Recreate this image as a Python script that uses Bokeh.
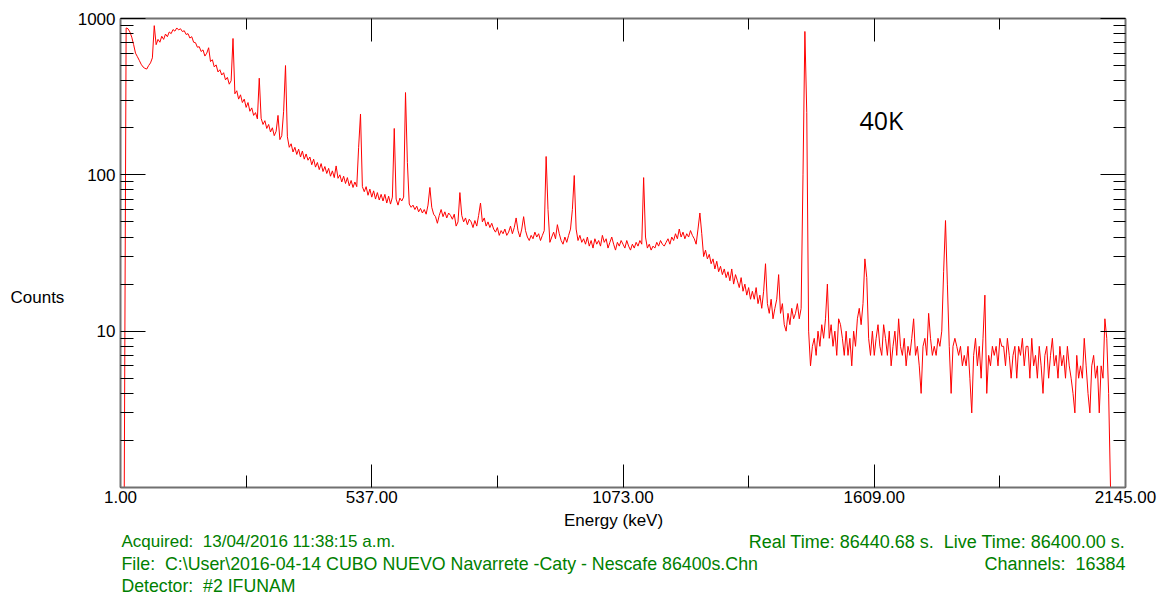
from bokeh.plotting import figure
from bokeh.layouts import column, row
from bokeh.models import LinearAxis, LogAxis, FixedTicker, PrintfTickFormatter, Label, Range1d
from bokeh.core.properties import value
from bokeh.embed import file_html
from bokeh.resources import INLINE

# ---------------- data ----------------
energy_start_kev = 1.0
energy_step_kev = 4.0

counts = [
    1, 1, 1, 870, 860, 820, 760, 680, 600, 570,
    540, 510, 490, 480, 475, 500, 520, 560, 900, 680,
    735, 705, 770, 735, 795, 765, 820, 800, 850, 830,
    870, 845, 860, 825, 835, 790, 800, 750, 765, 705,
    700, 655, 660, 615, 630, 575, 600, 650, 530, 545,
    490, 505, 455, 470, 435, 450, 405, 420, 380, 400,
    745, 330, 345, 305, 325, 290, 305, 270, 290, 255,
    268, 240, 250, 228, 415, 230, 210, 222, 198, 210,
    188, 200, 178, 190, 240, 168, 178, 255, 500, 175,
    150, 158, 140, 150, 135, 146, 130, 142, 126, 136,
    124, 130, 116, 126, 112, 120, 108, 118, 105, 113,
    102, 110, 98, 106, 96, 114, 95, 100, 90, 98,
    88, 96, 85, 92, 83, 90, 84, 150, 245, 84,
    78, 84, 74, 81, 72, 79, 70, 77, 69, 75,
    68, 75, 66, 73, 65, 72, 198, 70, 64, 71,
    68, 72, 336, 120, 65, 62, 64, 60, 63, 58,
    61, 57, 60, 56, 64, 83, 62, 56, 54, 49,
    55, 60, 54, 58, 53, 57, 55, 52, 56, 47,
    50, 77, 55, 50, 53, 48, 52, 50, 46, 51,
    47, 55, 66, 50, 53, 47, 50, 46, 49, 45,
    43, 46, 41, 44, 42, 45, 41, 43, 47, 42,
    46, 53, 44, 40, 45, 54, 44, 40, 38, 41,
    39, 43, 40, 42, 38, 41, 44, 131, 60, 37,
    40, 43, 39, 48, 42, 38, 36, 40, 37, 41,
    45, 60, 99, 45, 38, 41, 37, 39, 36, 40,
    35, 38, 34, 39, 36, 38, 35, 41, 37, 39,
    34, 37, 40, 36, 33, 37, 35, 38, 36, 34,
    38, 35, 33, 36, 34, 37, 35, 38, 36, 96,
    40, 34, 36, 33, 35, 34, 37, 35, 38, 36,
    35, 37, 39, 36, 40, 38, 42, 39, 45, 40,
    43, 39, 42, 40, 44, 41, 39, 36, 45, 57,
    42, 30, 33, 29, 31, 27, 29, 25, 28, 24,
    26, 23, 25, 22, 24, 21, 25, 20, 23, 21,
    19, 22, 18, 20, 17, 19, 16, 18, 16, 19,
    15, 17, 14, 18, 27, 15, 13, 16, 12, 14,
    16, 23, 13, 15, 11, 10, 13, 11, 14, 12,
    13, 15, 12, 14, 100, 826, 250, 10, 6, 8,
    9, 7, 10, 8, 11, 9, 12, 20, 9, 11,
    8, 10, 7, 12, 11, 9, 7, 10, 7, 9,
    6, 10, 8, 12, 14, 11, 15, 29, 22, 9,
    7, 10, 7, 9, 11, 8, 7, 11, 9, 7,
    10, 6, 8, 10, 7, 12, 8, 7, 9, 6,
    8, 7, 9, 12, 7, 8, 6, 4, 8, 9,
    7, 13, 9, 7, 8, 7, 9, 8, 10, 24,
    51, 20, 8, 4, 8, 9, 8, 7, 8, 6,
    7, 6, 8, 5, 3, 7, 9, 6, 8, 5,
    9, 17, 4, 7, 6, 8, 7, 8, 6, 9,
    8, 8, 6, 9, 7, 5, 7, 8, 5, 8,
    7, 9, 6, 8, 8, 5, 9, 6, 7, 5,
    8, 6, 4, 7, 8, 5, 7, 9, 6, 7,
    5, 8, 6, 7, 5, 8, 6, 5, 4, 3,
    7, 5, 6, 5, 9, 6, 4, 3, 6, 7,
    5, 6, 3, 6, 5, 12, 9, 4, 1, 1,
    1, 1, 1, 1, 1, 1, 1,
]
energy_kev = [energy_start_kev + energy_step_kev * i for i in range(len(counts))]

x_ticks = [1, 537, 1073, 1609, 2145]
x_minor_ticks = [269, 805, 1341, 1877]
y_ticks = [10, 100, 1000]
y_minor_ticks = [2, 3, 4, 5, 6, 7, 8, 9,
                 20, 30, 40, 50, 60, 70, 80, 90,
                 200, 300, 400, 500, 600, 700, 800, 900]

x_label = "Energy (keV)"
y_label = "Counts"
peak_label = "40K"
info_left = ["Acquired:\u00a0 13/04/2016 11:38:15 a.m.",
             "File:\u00a0 C:\\User\\2016-04-14 CUBO NUEVO Navarrete -Caty - Nescafe 86400s.Chn",
             "Detector:\u00a0 #2 IFUNAM"]
info_right = ["Real Time: 86440.68 s.\u00a0 Live Time: 86400.00 s.",
              "Channels:\u00a0 16384"]

# ---------------- styles ----------------
FONT = "Liberation Sans"
GREEN = "#008000"
AXIS_COLOR = "#707070"
LEFT_W = 72
TOP_H = 510
INFO_H = 597 - TOP_H
FRAME_TOP, FRAME_BOTTOM = 18, 487


def blank(fig):
    fig.outline_line_color = None
    fig.background_fill_color = "white"
    fig.border_fill_color = "white"
    fig.xgrid.visible = False
    fig.ygrid.visible = False


# ---------------- left strip with the y title (frame aligned with the main frame) ----------------
left = figure(width=LEFT_W, height=TOP_H, output_backend="svg", toolbar_location=None,
              x_range=Range1d(0, LEFT_W), y_range=Range1d(FRAME_BOTTOM, FRAME_TOP),
              x_axis_type=None, y_axis_type=None, min_border=0)
blank(left)
left.text(x=[10], y=[297], text=[y_label], text_font=value(FONT), text_font_size="17px",
          text_color="black", text_align="left", text_baseline="middle")

# ---------------- main spectrum ----------------
p = figure(width=1164 - LEFT_W, height=TOP_H, output_backend="svg", toolbar_location=None,
           x_range=Range1d(1, 2145), y_range=Range1d(1, 1000), y_axis_type="log",
           min_border_left=120 - LEFT_W, min_border_right=39, min_border_top=FRAME_TOP,
           min_border_bottom=TOP_H - FRAME_BOTTOM)
blank(p)

p.line(energy_kev, counts, line_color="#ff0000", line_width=1)


def style(ax, major_len, minor_len, show_labels):
    ax.axis_line_color = AXIS_COLOR
    ax.axis_line_width = 2
    ax.major_tick_line_color = "black"
    ax.minor_tick_line_color = "black"
    ax.major_tick_out = 0
    ax.minor_tick_out = 0
    ax.major_tick_in = major_len
    ax.minor_tick_in = minor_len
    if show_labels:
        ax.major_label_text_font = FONT
        ax.major_label_text_font_size = "17px"
        ax.major_label_text_color = "black"
    else:
        ax.major_label_text_font_size = "1px"
        ax.major_label_text_alpha = 0
        ax.major_label_standoff = 0


xa = p.xaxis[0]
xa.ticker = FixedTicker(ticks=x_ticks, minor_ticks=x_minor_ticks)
xa.formatter = PrintfTickFormatter(format="%.2f")
style(xa, 23, 12, True)
xa.major_label_standoff = 3

ya = p.yaxis[0]
ya.ticker = FixedTicker(ticks=y_ticks, minor_ticks=y_minor_ticks)
ya.formatter = PrintfTickFormatter(format="%d")
style(ya, 25, 13, True)
ya.major_label_standoff = 5

top = LinearAxis(ticker=FixedTicker(ticks=x_ticks, minor_ticks=x_minor_ticks),
                 formatter=PrintfTickFormatter(format="%.2f"))
style(top, 23, 11, False)
p.add_layout(top, "above")

right = LogAxis(ticker=FixedTicker(ticks=y_ticks, minor_ticks=y_minor_ticks),
                formatter=PrintfTickFormatter(format="%d"))
style(right, 25, 12, False)
p.add_layout(right, "right")

p.add_layout(Label(x=739, y=368, x_units="screen", y_units="screen", text=peak_label,
                   text_font="Open Sans", text_font_size="25px", text_color="black",
                   text_align="left", text_baseline="middle"))

# ---------------- bottom strip: axis title and acquisition information ----------------
info = figure(width=1164, height=INFO_H, output_backend="svg", toolbar_location=None,
              x_range=Range1d(0, 1164), y_range=Range1d(INFO_H, 0),
              x_axis_type=None, y_axis_type=None, min_border=0)
blank(info)
info.text(x=[613], y=[520 - TOP_H], text=[x_label], text_font=value(FONT),
          text_font_size="17px", text_color="black", text_align="center",
          text_baseline="middle")

row_y = [541 - TOP_H, 563 - TOP_H, 585 - TOP_H]
left_sizes = ["17px", "17.8px", "17.7px"]
for k, t in enumerate(info_left):
    info.text(x=[121], y=[row_y[k]], text=[t], text_font=value(FONT),
              text_font_size=left_sizes[k], text_color=GREEN,
              text_align="left", text_baseline="middle")
for k, t in enumerate(info_right):
    info.text(x=[1125], y=[row_y[k]], text=[t], text_font=value(FONT),
              text_font_size="18px", text_color=GREEN,
              text_align="right", text_baseline="middle")

layout = column(row(left, p, spacing=0), info, spacing=0)
open("out.html", "w").write(file_html(layout, INLINE))
